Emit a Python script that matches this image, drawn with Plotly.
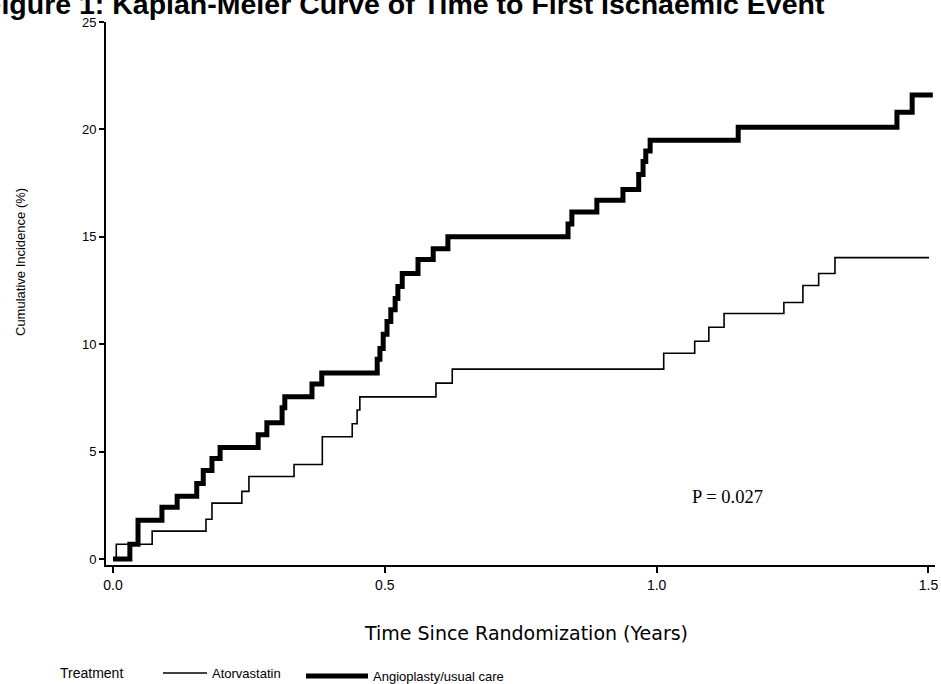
import plotly.graph_objects as go

# Data (time in years, cumulative incidence in %)
ator_t = [0, 0.006, 0.072, 0.171, 0.182, 0.237, 0.250, 0.333, 0.385, 0.385, 0.440, 0.449,
          0.454, 0.594, 0.624, 1.013, 1.070, 1.096, 1.124, 1.234, 1.269, 1.298, 1.328, 1.501]
ator_y = [0, 0.69, 1.30, 1.85, 2.60, 3.15, 3.84, 4.40, 5.05, 5.69, 6.30, 6.94,
          7.55, 8.19, 8.84, 9.58, 10.14, 10.79, 11.43, 11.94, 12.73, 13.29, 14.03, 14.03]

angio_t = [0, 0.031, 0.046, 0.090, 0.118, 0.154, 0.166, 0.182, 0.197, 0.267,
           0.283, 0.311, 0.316, 0.366, 0.384, 0.486, 0.491, 0.497, 0.504, 0.511,
           0.519, 0.524, 0.532, 0.561, 0.589, 0.616, 0.837, 0.844, 0.890, 0.938,
           0.967, 0.975, 0.980, 0.988, 1.150, 1.442, 1.470, 1.508]
angio_y = [0, 0.69, 1.81, 2.41, 2.92, 3.52, 4.12, 4.68, 5.19, 5.79,
           6.34, 7.04, 7.55, 8.15, 8.66, 9.3, 9.8, 10.46, 11.06, 11.6,
           12.13, 12.69, 13.29, 13.94, 14.44, 15.0, 15.6, 16.16, 16.7, 17.2,
           17.9, 18.5, 19.0, 19.5, 20.1, 20.8, 21.6, 21.6]

x_ticks = [0.0, 0.5, 1.0, 1.5]
x_tick_labels = ["0.0", "0.5", "1.0", "1.5"]
y_ticks = [0, 5, 10, 15, 20, 25]
y_tick_labels = ["0", "5", "10", "15", "20", "25"]

series_names = ["Atorvastatin", "Angioplasty/usual care"]
title_text = "Figure 1: Kaplan-Meier Curve of Time to First Ischaemic Event"
x_title = "Time Since Randomization (Years)"
y_title = "Cumulative Incidence (%)"
p_text = "P = 0.027"
legend_title = "Treatment"

fig = go.Figure()
fig.add_trace(go.Scatter(x=ator_t, y=ator_y, mode="lines", name=series_names[0],
                         legend="legend",
                         line=dict(color="black", width=1.6, shape="hv")))
fig.add_trace(go.Scatter(x=angio_t, y=angio_y, mode="lines", name=series_names[1],
                         legend="legend2",
                         line=dict(color="black", width=5, shape="hv")))

W, H = 941, 684
ml, mr, mt, mb = 106, 6, 22, 119
pw = W - ml - mr
ph = H - mt - mb


def px(xp):
    return (xp - ml) / pw


def py(yp):
    return (H - mb - yp) / ph


sans = "Liberation Sans, Arial, sans-serif"
leg_font = dict(family=sans, size=13, color="black")

fig.update_layout(
    width=W, height=H,
    margin=dict(l=ml, r=mr, t=mt, b=mb, pad=0, autoexpand=False),
    paper_bgcolor="white", plot_bgcolor="white",
    showlegend=True,
    legend=dict(orientation="h", x=px(158), y=py(673), xanchor="left", yanchor="middle",
                font=leg_font, bgcolor="rgba(0,0,0,0)", itemwidth=44),
    legend2=dict(orientation="h", x=px(301), y=py(676), xanchor="left", yanchor="middle",
                 font=leg_font, bgcolor="rgba(0,0,0,0)", itemwidth=62),
    xaxis=dict(range=[-0.0129, 1.512], tickvals=x_ticks, ticktext=x_tick_labels,
               showgrid=False, zeroline=False, showline=True, linecolor="black", linewidth=2,
               ticks="outside", ticklen=6, tickwidth=1.5, tickcolor="black",
               tickfont=dict(family=sans, size=14, color="black")),
    yaxis=dict(range=[-0.279, 25], tickvals=y_ticks, ticktext=y_tick_labels,
               showgrid=False, zeroline=False, showline=True, linecolor="black", linewidth=2,
               ticks="outside", ticklen=5, tickwidth=1.5, tickcolor="black",
               tickfont=dict(family=sans, size=13, color="black")),
    annotations=[
        dict(text="<b>" + title_text + "</b>", xref="paper", yref="paper",
             x=px(-18), y=py(3.5), xanchor="left", yanchor="middle", showarrow=False,
             font=dict(family=sans, size=28.5, color="black")),
        dict(text=y_title, xref="paper", yref="paper", x=px(20), y=py(262),
             xanchor="center", yanchor="middle", textangle=-90, showarrow=False,
             font=dict(family=sans, size=13, color="black")),
        dict(text=x_title, xref="paper", yref="paper", x=px(526), y=py(633),
             xanchor="center", yanchor="middle", showarrow=False,
             font=dict(family="DejaVu Sans, sans-serif", size=19, color="black")),
        dict(text=p_text, xref="x", yref="y", x=1.062, y=2.87,
             xanchor="left", yanchor="middle", showarrow=False,
             font=dict(family="Liberation Serif, serif", size=18.5, color="black")),
        dict(text=legend_title, xref="paper", yref="paper", x=px(58), y=py(673),
             xanchor="left", yanchor="middle", showarrow=False,
             font=dict(family=sans, size=14, color="black")),
    ],
)

fig.write_html("out.html", config={"displayModeBar": False},
               post_script="document.body.style.margin='0px';")
